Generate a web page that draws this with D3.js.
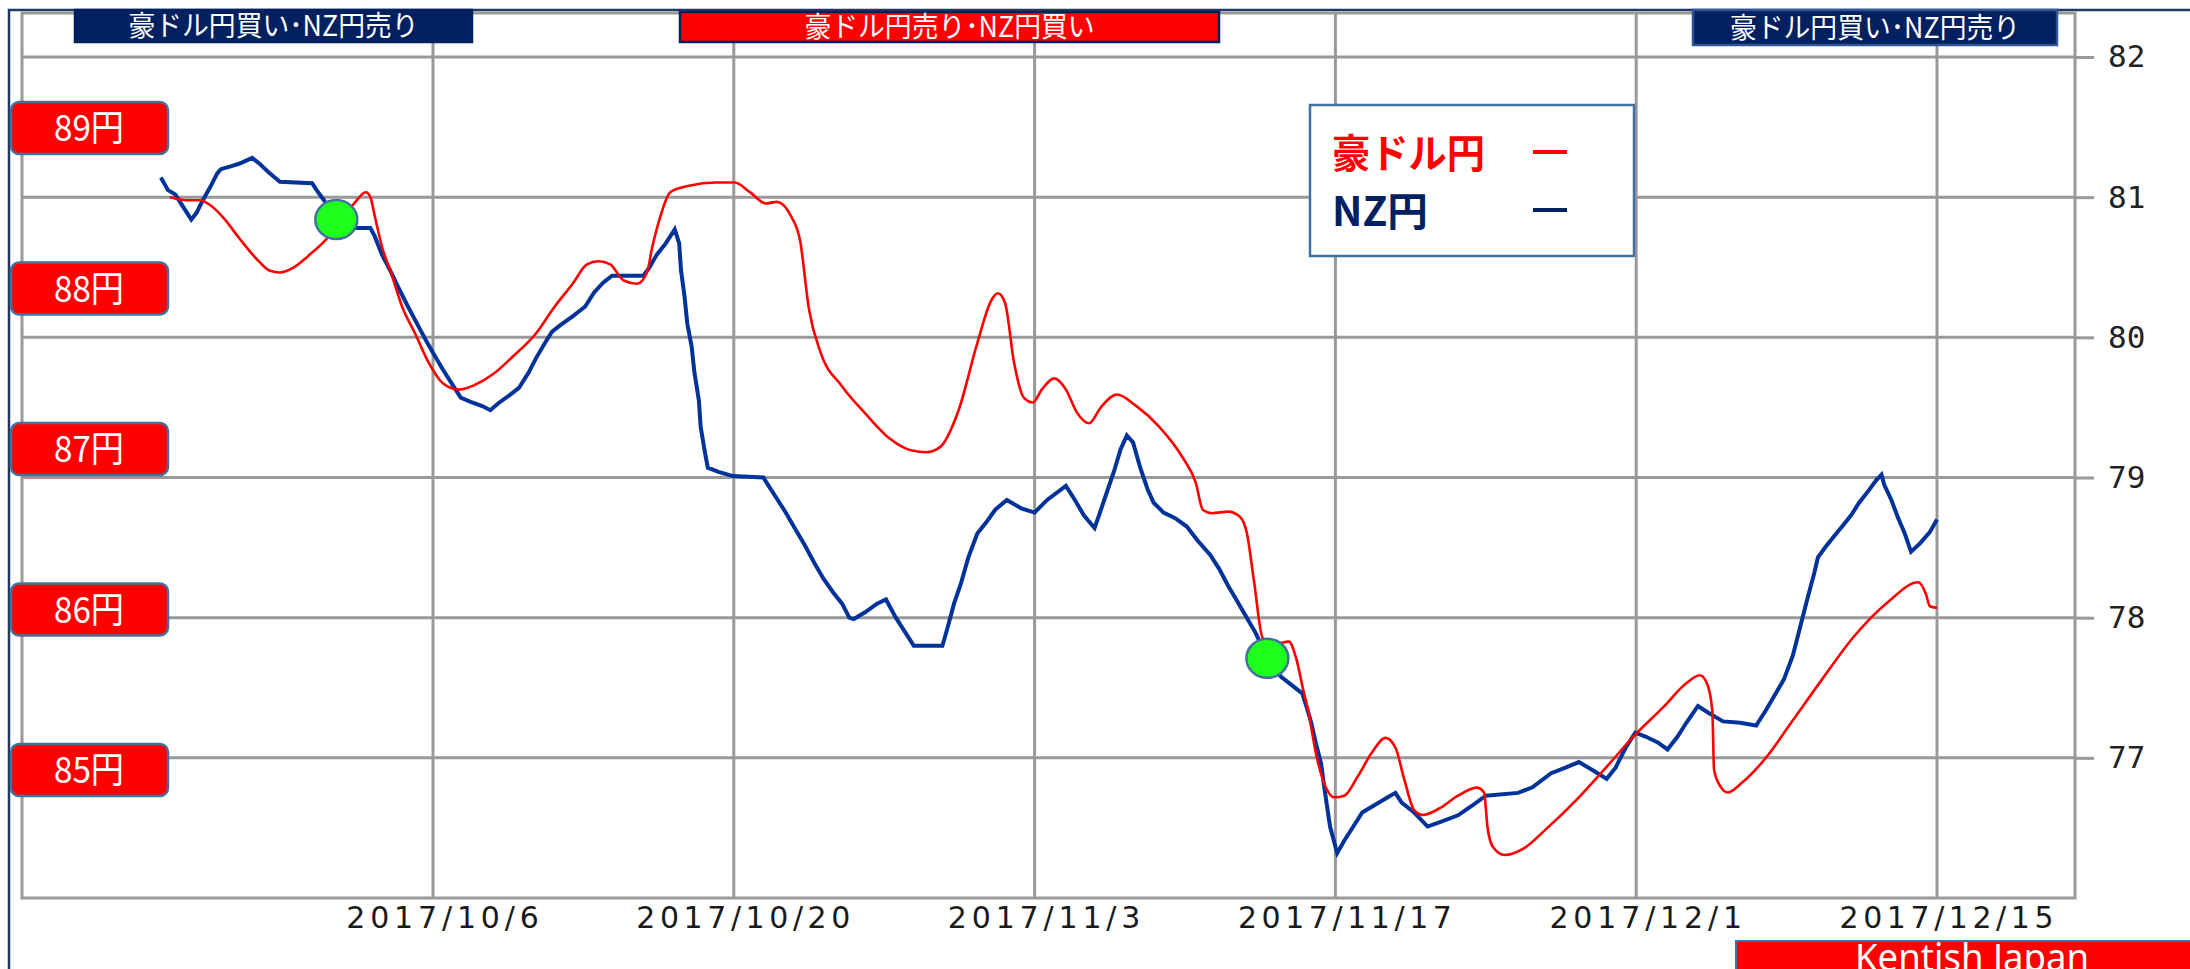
<!DOCTYPE html>
<html>
<head>
<meta charset="utf-8">
<script src="https://cdnjs.cloudflare.com/ajax/libs/d3/7.8.5/d3.min.js"></script>
<style>
	body { margin: 0; background: #fff; }
	svg { display: block; }
</style>
</head>
<body>
<script>
// NZ円 (right axis): [MM-DD HH, rate]
var nzJpy = [
	["09-23 08", 81.14], ["09-23 16", 81.05], ["09-24 00", 81.02], ["09-24 05", 80.97],
	["09-24 10", 80.92], ["09-24 18", 80.84], ["09-25 00", 80.89], ["09-25 07", 80.98],
	["09-25 15", 81.07], ["09-25 23", 81.17], ["09-26 03", 81.20], ["09-26 14", 81.22],
	["09-27 00", 81.24], ["09-27 14", 81.28], ["09-27 22", 81.24], ["09-28 08", 81.18],
	["09-28 21", 81.11], ["09-30 09", 81.10], ["09-30 14", 81.05], ["09-30 22", 80.98],
	["10-01 12", 80.84], ["10-02 10", 80.78], ["10-03 02", 80.78], ["10-03 07", 80.72],
	["10-03 15", 80.59], ["10-04 00", 80.48], ["10-04 09", 80.36], ["10-04 20", 80.22],
	["10-05 06", 80.10], ["10-05 16", 79.98], ["10-06 00", 79.89], ["10-06 11", 79.77],
	["10-06 21", 79.67], ["10-07 07", 79.57], ["10-07 18", 79.54], ["10-08 07", 79.51],
	["10-08 16", 79.48], ["10-09 01", 79.53], ["10-09 14", 79.59], ["10-10 00", 79.64],
	["10-10 11", 79.75], ["10-10 19", 79.85], ["10-11 05", 79.96], ["10-11 13", 80.04],
	["10-11 23", 80.09], ["10-12 12", 80.15], ["10-13 02", 80.22], ["10-13 12", 80.32],
	["10-13 22", 80.39], ["10-14 08", 80.44], ["10-15 19", 80.44], ["10-16 02", 80.50],
	["10-16 10", 80.59], ["10-16 20", 80.67], ["10-17 06", 80.77], ["10-17 11", 80.67],
	["10-17 13", 80.48], ["10-17 17", 80.29], ["10-17 20", 80.10], ["10-18 01", 79.93],
	["10-18 04", 79.75], ["10-18 09", 79.55], ["10-18 11", 79.36], ["10-18 16", 79.17],
	["10-18 19", 79.07], ["10-19 07", 79.04], ["10-19 23", 79.01], ["10-21 09", 79.00],
	["10-21 16", 78.93], ["10-22 00", 78.85], ["10-22 10", 78.75], ["10-22 20", 78.64],
	["10-23 07", 78.52], ["10-23 18", 78.39], ["10-24 04", 78.28], ["10-24 15", 78.18],
	["10-25 01", 78.10], ["10-25 09", 78.00], ["10-25 14", 77.99], ["10-26 03", 78.04],
	["10-26 16", 78.10], ["10-27 02", 78.13], ["10-27 13", 78.00], ["10-27 23", 77.90],
	["10-28 09", 77.80], ["10-29 17", 77.80], ["10-29 22", 77.91], ["10-30 06", 78.10],
	["10-30 14", 78.25], ["10-30 22", 78.43], ["10-31 08", 78.60], ["10-31 18", 78.68],
	["11-01 04", 78.77], ["11-01 17", 78.84], ["11-02 09", 78.78], ["11-03 00", 78.75],
	["11-03 14", 78.84], ["11-04 11", 78.94], ["11-04 21", 78.84], ["11-05 07", 78.73],
	["11-05 19", 78.64], ["11-06 01", 78.75], ["11-06 09", 78.90], ["11-06 17", 79.05],
	["11-07 00", 79.20], ["11-07 07", 79.30], ["11-07 14", 79.25], ["11-07 22", 79.07],
	["11-08 06", 78.92], ["11-08 13", 78.82], ["11-09 00", 78.75], ["11-09 13", 78.71],
	["11-10 02", 78.65], ["11-10 14", 78.55], ["11-11 04", 78.45], ["11-11 14", 78.35],
	["11-12 00", 78.23], ["11-12 11", 78.11], ["11-12 21", 78.00], ["11-13 07", 77.89],
	["11-13 20", 77.71], ["11-14 11", 77.58], ["11-15 01", 77.51], ["11-15 11", 77.46],
	["11-15 16", 77.36], ["11-15 21", 77.25], ["11-16 02", 77.11], ["11-16 08", 76.96],
	["11-16 12", 76.77], ["11-16 18", 76.51], ["11-17 02", 76.32], ["11-17 10", 76.41],
	["11-17 20", 76.51], ["11-18 06", 76.61], ["11-18 19", 76.66], ["11-19 11", 76.72],
	["11-19 19", 76.75], ["11-20 02", 76.68], ["11-20 16", 76.61], ["11-21 07", 76.51],
	["11-21 20", 76.54], ["11-22 17", 76.59], ["11-23 09", 76.66], ["11-24 00", 76.73],
	["11-25 12", 76.75], ["11-26 04", 76.79], ["11-27 01", 76.89], ["11-27 17", 76.93],
	["11-28 08", 76.97], ["11-29 00", 76.91], ["11-29 15", 76.85], ["11-30 01", 76.93],
	["11-30 12", 77.07], ["11-30 23", 77.18], ["12-01 11", 77.15], ["12-02 00", 77.11],
	["12-02 11", 77.06], ["12-02 22", 77.15], ["12-03 08", 77.25], ["12-03 21", 77.37],
	["12-04 09", 77.32], ["12-05 01", 77.26], ["12-05 20", 77.25], ["12-06 14", 77.23],
	["12-07 00", 77.33], ["12-07 11", 77.45], ["12-07 21", 77.56], ["12-08 07", 77.73],
	["12-08 15", 77.93], ["12-08 23", 78.13], ["12-09 07", 78.32], ["12-09 11", 78.43],
	["12-09 19", 78.50], ["12-10 05", 78.58], ["12-10 14", 78.65], ["12-11 00", 78.73],
	["12-11 09", 78.82], ["12-11 20", 78.91], ["12-12 04", 78.98], ["12-12 10", 79.02],
	["12-12 13", 78.95], ["12-12 21", 78.84], ["12-13 04", 78.72], ["12-13 12", 78.60],
	["12-13 19", 78.47], ["12-14 05", 78.53], ["12-14 16", 78.61], ["12-15 00", 78.70]
];

// 豪ドル円 (left yen boxes)
var audJpy = [
	["09-23 18", 88.57], ["09-24 13", 88.55], ["09-25 04", 88.55], ["09-25 15", 88.52],
	["09-26 06", 88.44], ["09-27 00", 88.31], ["09-27 18", 88.19], ["09-28 10", 88.11],
	["09-28 21", 88.10], ["09-29 12", 88.13], ["09-30 04", 88.20], ["09-30 22", 88.29],
	["10-01 16", 88.41], ["10-02 08", 88.53], ["10-02 21", 88.60], ["10-03 02", 88.57],
	["10-03 07", 88.45], ["10-03 15", 88.26], ["10-04 01", 88.10], ["10-04 14", 87.88],
	["10-05 04", 87.72], ["10-05 19", 87.54], ["10-06 11", 87.41], ["10-07 05", 87.37],
	["10-07 23", 87.40], ["10-08 20", 87.47], ["10-09 16", 87.57], ["10-10 19", 87.72],
	["10-11 15", 87.88], ["10-12 12", 88.03], ["10-13 04", 88.15], ["10-13 17", 88.17],
	["10-14 06", 88.15], ["10-14 21", 88.05], ["10-15 12", 88.03], ["10-15 23", 88.10],
	["10-16 05", 88.26], ["10-16 14", 88.45], ["10-17 01", 88.60], ["10-17 22", 88.64],
	["10-19 04", 88.66], ["10-20 01", 88.66], ["10-20 18", 88.60], ["10-21 12", 88.53],
	["10-22 00", 88.54], ["10-22 16", 88.45], ["10-23 02", 88.30], ["10-23 12", 87.87],
	["10-24 01", 87.60], ["10-25 01", 87.39], ["10-26 03", 87.22], ["10-27 05", 87.07],
	["10-28 07", 86.99], ["10-28 23", 86.98], ["10-29 14", 87.01], ["10-30 11", 87.24],
	["10-31 08", 87.66], ["11-01 00", 87.93], ["11-01 07", 87.97], ["11-01 15", 87.91],
	["11-02 01", 87.54], ["11-02 12", 87.32], ["11-02 22", 87.29], ["11-03 08", 87.37],
	["11-03 22", 87.44], ["11-04 11", 87.37], ["11-04 23", 87.23], ["11-05 13", 87.16],
	["11-06 02", 87.26], ["11-06 20", 87.34], ["11-07 17", 87.27], ["11-08 19", 87.14],
	["11-09 21", 86.95], ["11-10 12", 86.79], ["11-10 20", 86.62], ["11-11 06", 86.60],
	["11-12 00", 86.61], ["11-12 13", 86.58], ["11-12 21", 86.48], ["11-13 05", 86.18],
	["11-13 15", 85.82], ["11-14 07", 85.79], ["11-14 20", 85.80], ["11-15 04", 85.70],
	["11-15 12", 85.50], ["11-15 18", 85.36], ["11-16 02", 85.11], ["11-16 10", 84.94],
	["11-16 23", 84.83], ["11-17 10", 84.84], ["11-18 01", 84.96], ["11-18 17", 85.11],
	["11-19 08", 85.20], ["11-19 19", 85.14], ["11-20 05", 84.94], ["11-20 16", 84.75],
	["11-21 02", 84.72], ["11-21 20", 84.76], ["11-22 17", 84.84], ["11-23 14", 84.89],
	["11-23 22", 84.86], ["11-24 02", 84.64], ["11-24 08", 84.52], ["11-24 21", 84.47],
	["11-25 18", 84.51], ["11-26 19", 84.63], ["11-28 08", 84.83], ["11-29 15", 85.02],
	["11-30 23", 85.22], ["12-02 06", 85.39], ["12-03 08", 85.54], ["12-03 23", 85.59],
	["12-04 07", 85.54], ["12-04 13", 85.37], ["12-04 15", 85.00], ["12-04 23", 84.89],
	["12-05 06", 84.86], ["12-05 22", 84.92], ["12-07 00", 85.07], ["12-08 07", 85.31],
	["12-09 15", 85.56], ["12-11 03", 85.83], ["12-12 18", 86.05], ["12-14 03", 86.17],
	["12-14 12", 86.09], ["12-14 16", 86.02], ["12-15 00", 86.01]
];

// switch points (green dots) on the NZ line
var signals = [["10-01 12", 80.84], ["11-13 20", 77.71]];

var tickDates = ["10-06 00", "10-20 00", "11-03 00", "11-17 00", "12-01 00", "12-15 00"];
var nzTicks = [77, 78, 79, 80, 81, 82];
var yenLevels = [89, 88, 87, 86, 85];
var bannerLabels = ["豪ドル円買い･NZ円売り", "豪ドル円売り･NZ円買い", "豪ドル円買い･NZ円売り"];
var legendLabels = ["豪ドル円", "NZ円"];

var W = 2190, H = 969,
	plot = {left: 22, right: 2075, top: 13, bottom: 898},
	red = "#ff0000", navy = "#002060", nzBlue = "#003399",
	grid = "#999999", boxEdge = "#41719c";

var parse = d3.timeParse("%Y-%m-%d %H");
function toDate(s) { return parse("2017-" + s); }

var x = d3.scaleTime()
	.domain([toDate(tickDates[0]), toDate(tickDates[tickDates.length - 1])])
	.range([433, 1937]);
var yNz = d3.scaleLinear().domain([76, 82]).range([898, 57]);
var yAud = d3.scaleLinear().domain([85, 89]).range([770, 128]);

var svg = d3.select("body").append("svg")
	.attr("width", W)
	.attr("height", H);

// outer frame (top and left edges)
svg.append("path")
	.attr("d", "M9," + H + "V10H" + W)
	.attr("fill", "none")
	.attr("stroke", "#1f3864")
	.attr("stroke-width", 2.5);

// grid
svg.append("g").selectAll("line")
	.data(nzTicks)
	.enter().append("line")
	.attr("x1", plot.left).attr("x2", plot.right)
	.attr("y1", function(d) { return yNz(d); })
	.attr("y2", function(d) { return yNz(d); })
	.attr("stroke", grid).attr("stroke-width", 3);

svg.append("g").selectAll("line")
	.data(tickDates)
	.enter().append("line")
	.attr("x1", function(d) { return x(toDate(d)); })
	.attr("x2", function(d) { return x(toDate(d)); })
	.attr("y1", plot.top).attr("y2", plot.bottom)
	.attr("stroke", grid).attr("stroke-width", 3);

svg.append("rect")
	.attr("x", plot.left).attr("y", plot.top)
	.attr("width", plot.right - plot.left)
	.attr("height", plot.bottom - plot.top)
	.attr("fill", "none")
	.attr("stroke", grid).attr("stroke-width", 3);

// right axis
var yAxis = svg.append("g")
	.attr("transform", "translate(" + plot.right + ",0)")
	.call(d3.axisRight(yNz)
		.tickValues(nzTicks)
		.tickFormat(d3.format("d"))
		.tickSize(19).tickPadding(14));
yAxis.select(".domain").remove();
yAxis.selectAll("line").attr("stroke", grid).attr("stroke-width", 3);
yAxis.selectAll("text")
	.attr("fill", "#222")
	.style("font-family", "'DejaVu Sans Mono', monospace")
	.style("font-size", "31px");

// bottom axis
var xFormat = d3.timeFormat("%Y/%-m/%-d");
var xAxis = svg.append("g")
	.attr("transform", "translate(0," + plot.bottom + ")")
	.call(d3.axisBottom(x)
		.tickValues(tickDates.map(toDate))
		.tickSize(0).tickPadding(9)
		.tickFormat(xFormat));
xAxis.select(".domain").remove();
xAxis.selectAll("text")
	.attr("dx", 9)
	.attr("fill", "#1a1a1a")
	.attr("textLength", function(d) { return xFormat(d).length * 21.4; })
	.attr("lengthAdjust", "spacing")
	.style("font-family", "'DejaVu Sans', sans-serif")
	.style("font-size", "30px");

// lines
var nzLine = d3.line()
	.x(function(d) { return x(toDate(d[0])); })
	.y(function(d) { return yNz(d[1]); });

var audLine = d3.line()
	.curve(d3.curveMonotoneX)
	.x(function(d) { return x(toDate(d[0])); })
	.y(function(d) { return yAud(d[1]); });

svg.append("path")
	.datum(nzJpy)
	.attr("d", nzLine)
	.attr("fill", "none")
	.attr("stroke", nzBlue)
	.attr("stroke-width", 4);

svg.append("path")
	.datum(audJpy)
	.attr("d", audLine)
	.attr("fill", "none")
	.attr("stroke", red)
	.attr("stroke-width", 2.6);

svg.append("g").selectAll("ellipse")
	.data(signals)
	.enter().append("ellipse")
	.attr("cx", function(d) { return x(toDate(d[0])); })
	.attr("cy", function(d) { return yNz(d[1]); })
	.attr("rx", 21).attr("ry", 19.5)
	.attr("fill", "#1eff1e")
	.attr("stroke", boxEdge).attr("stroke-width", 2.5);

// left yen boxes
var yen = svg.append("g").selectAll("g")
	.data(yenLevels)
	.enter().append("g")
	.attr("transform", function(d) { return "translate(11," + yAud(d) + ")"; });
yen.append("rect")
	.attr("x", 0).attr("y", -26)
	.attr("width", 157).attr("height", 52)
	.attr("rx", 8)
	.attr("fill", red)
	.attr("stroke", boxEdge).attr("stroke-width", 2.5);
yen.append("text")
	.attr("x", 78).attr("y", 13)
	.attr("text-anchor", "middle")
	.attr("fill", "#fff")
	.attr("textLength", 70).attr("lengthAdjust", "spacingAndGlyphs")
	.style("font-family", "'Noto Sans CJK JP', sans-serif")
	.style("font-size", "36px")
	.text(function(d) { return d + "円"; });

// top banners
var banners = [
	{x: 75, w: 397, y: 10, h: 32, fill: navy, edge: navy},
	{x: 680, w: 539, y: 12, h: 30, fill: red, edge: navy},
	{x: 1693, w: 364, y: 10, h: 35, fill: navy, edge: "#2f5597"}
];
var b = svg.append("g").selectAll("g")
	.data(banners)
	.enter().append("g");
b.append("rect")
	.attr("x", function(d) { return d.x; })
	.attr("y", function(d) { return d.y; })
	.attr("width", function(d) { return d.w; })
	.attr("height", function(d) { return d.h; })
	.attr("fill", function(d) { return d.fill; })
	.attr("stroke", function(d) { return d.edge; })
	.attr("stroke-width", 2.5);
b.append("text")
	.attr("x", function(d) { return d.x + d.w / 2; })
	.attr("y", function(d) { return d.y + d.h / 2 + 10; })
	.attr("text-anchor", "middle")
	.attr("fill", "#fff")
	.attr("textLength", 290).attr("lengthAdjust", "spacingAndGlyphs")
	.style("font-family", "'Noto Sans CJK JP', sans-serif")
	.style("font-size", "28px")
	.text(function(d, i) { return bannerLabels[i]; });

// legend
var legend = svg.append("g").attr("transform", "translate(1310,105)");
legend.append("rect")
	.attr("width", 324).attr("height", 151)
	.attr("fill", "#fff")
	.attr("stroke", boxEdge).attr("stroke-width", 2.5);
var legendColors = [red, navy];
var item = legend.selectAll(".item")
	.data(legendLabels)
	.enter().append("g")
	.attr("class", "item")
	.attr("transform", function(d, i) { return "translate(0," + (63 + i * 58) + ")"; });
item.append("text")
	.attr("x", 22)
	.attr("fill", function(d, i) { return legendColors[i]; })
	.attr("textLength", function(d, i) { return i === 0 ? 153 : 96; })
	.attr("lengthAdjust", "spacingAndGlyphs")
	.style("font-family", "'Noto Sans CJK JP', sans-serif")
	.style("font-weight", "bold")
	.style("font-size", "40px")
	.text(function(d) { return d; });
item.append("line")
	.attr("x1", 223).attr("x2", 257)
	.attr("y1", -16).attr("y2", -16)
	.attr("stroke", function(d, i) { return legendColors[i]; })
	.attr("stroke-width", 4);

// credit
svg.append("rect")
	.attr("x", 1736).attr("y", 941)
	.attr("width", 470).attr("height", 40)
	.attr("fill", red)
	.attr("stroke", boxEdge).attr("stroke-width", 2);
svg.append("text")
	.attr("x", 1972).attr("y", 971)
	.attr("text-anchor", "middle")
	.attr("fill", "#fff")
	.attr("textLength", 234).attr("lengthAdjust", "spacingAndGlyphs")
	.style("font-family", "'Noto Sans', sans-serif")
	.style("font-size", "38px")
	.text("Kentish Japan");
</script>
</body>
</html>
